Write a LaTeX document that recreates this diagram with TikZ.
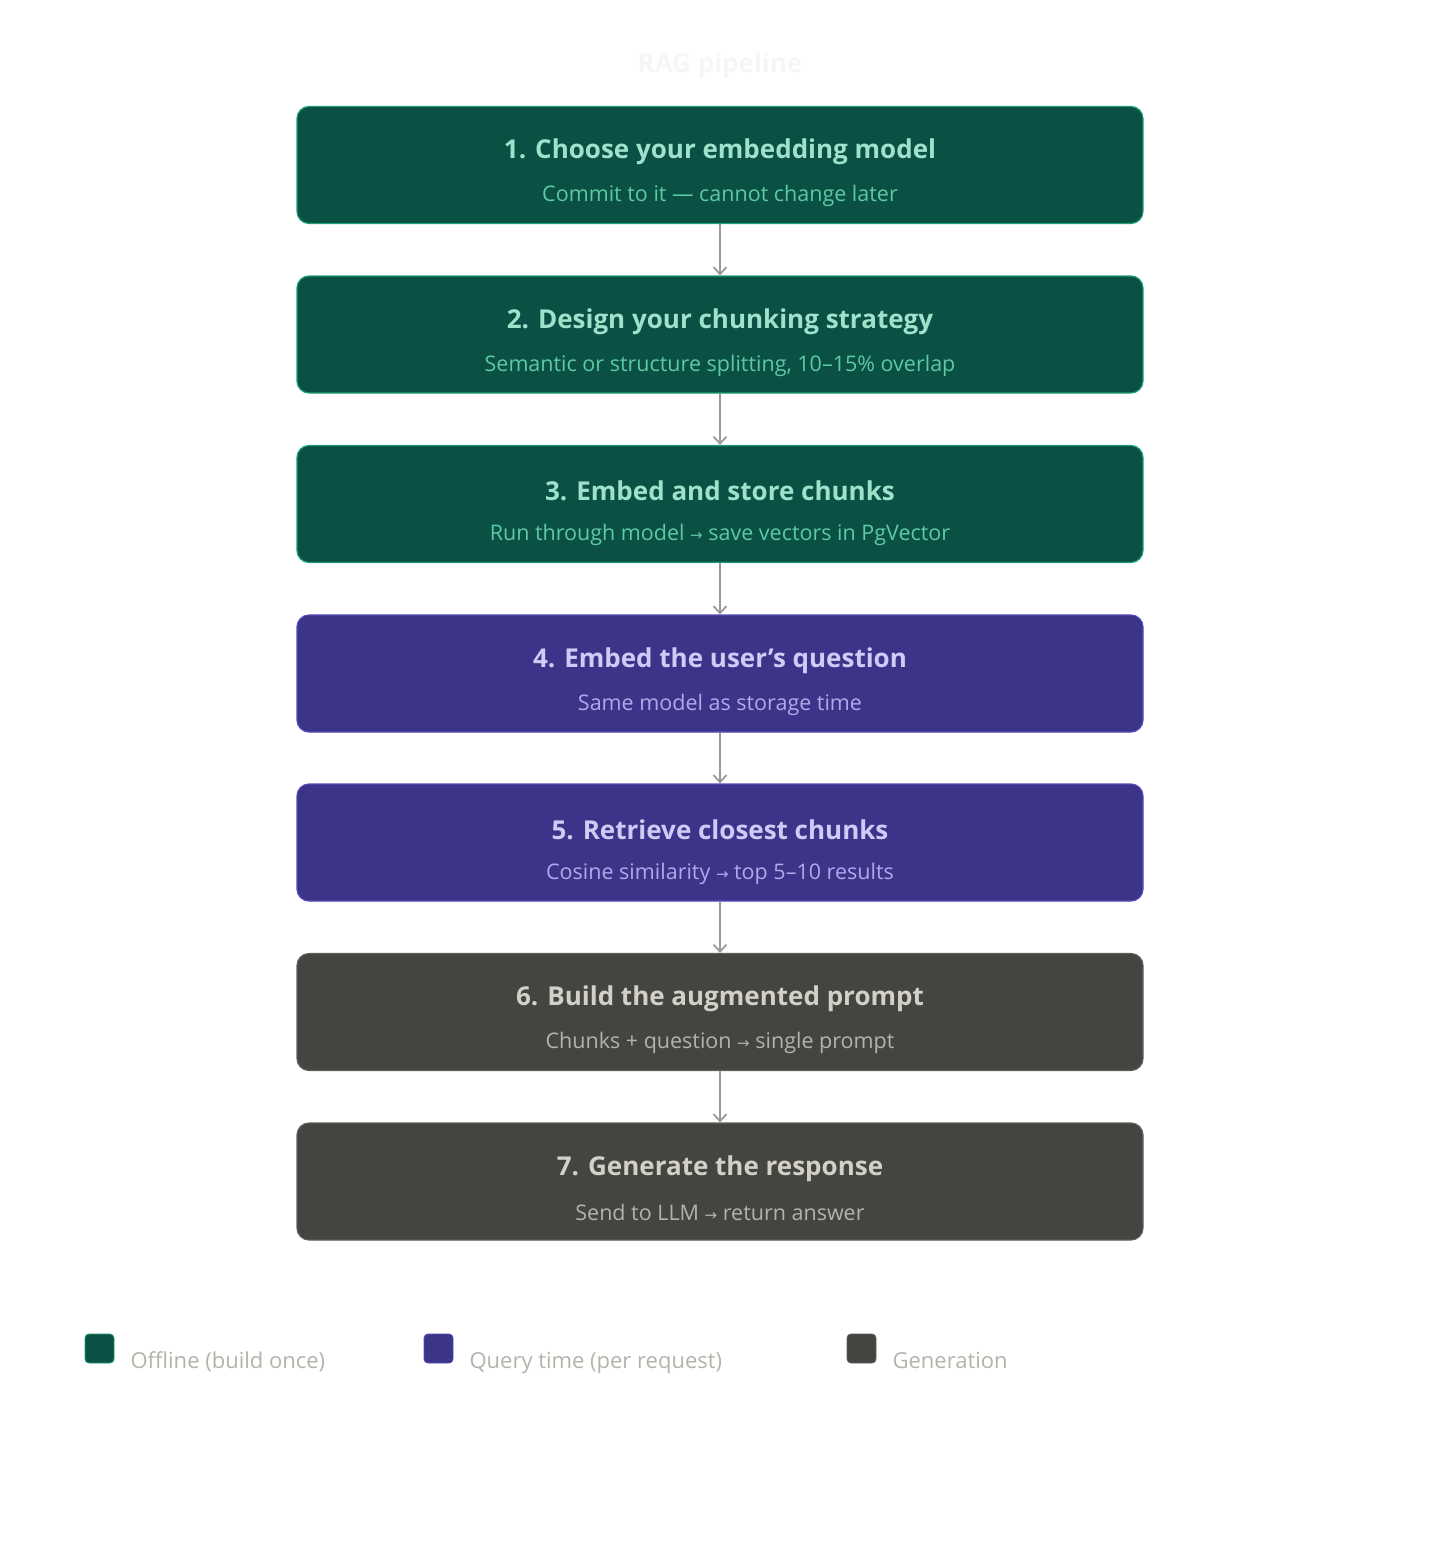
\documentclass[tikz,border=0pt]{standalone}
\usepackage{fontspec}
\setmainfont{Open Sans}
\newfontfamily\symf{DejaVu Sans}
\newcommand{\ra}{{\symf\fontsize{15}{18}\selectfont →}}
\usetikzlibrary{arrows.meta}
\definecolor{gF}{HTML}{0A5044}\definecolor{gB}{HTML}{1D9E75}\definecolor{gT}{HTML}{9FE1CB}\definecolor{gS}{HTML}{5DCAA5}
\definecolor{pF}{HTML}{3C3489}\definecolor{pB}{HTML}{534AB7}\definecolor{pT}{HTML}{CECBF6}\definecolor{pS}{HTML}{AFA9EC}
\definecolor{kF}{HTML}{444441}\definecolor{kB}{HTML}{5F5E5A}\definecolor{kT}{HTML}{D3D1C7}\definecolor{kS}{HTML}{B4B2A9}
\definecolor{arr}{HTML}{9A9A94}\definecolor{ttl}{HTML}{F6F6F4}
\begin{document}
\begin{tikzpicture}[x=1pt,y=-1pt,
 box/.style={draw=#1B,fill=#1F,rounded corners=12pt,line width=1.2pt,minimum width=846pt,minimum height=117pt,inner sep=0pt},
 tt/.style={font=\fontsize{26}{30}\selectfont\bfseries,text=#1T},
 st/.style={font=\fontsize{21.5}{26}\selectfont,text=#1S},
 ar/.style={draw=arr,line width=1.8pt,-{Straight Barb[length=7pt,width=13pt]}},
 lsq/.style={fill=#1F,draw=#1B,line width=0.8pt,rounded corners=4pt,minimum size=29pt,inner sep=0pt},
 lt/.style={font=\fontsize{22}{26}\selectfont,text=kS,anchor=base west}]
\useasboundingbox (0,0) rectangle (1440,1568);
\node[font=\fontsize{26}{30}\selectfont\bfseries,text=ttl] (title) at (720,66) {RAG pipeline};
\foreach \i/\y/\c/\t/\s in {
 1/165/g/{1. Choose your embedding model}/{Commit to it — cannot change later},
 2/334.5/g/{2. Design your chunking strategy}/{Semantic or structure splitting, 10–15\% overlap},
 3/504/g/{3. Embed and store chunks}/{Run through model \ra\ save vectors in PgVector},
 4/673.5/p/{4. Embed the user\char"27 s question}/{Same model as storage time},
 5/842.5/p/{5. Retrieve closest chunks}/{Cosine similarity \ra\ top 5–10 results},
 6/1012/k/{6. Build the augmented prompt}/{Chunks + question \ra\ single prompt},
 7/1181.5/k/{7. Generate the response}/{Send to LLM \ra\ return answer}}{
 \node[box=\c] (b\i) at (720,\y) {};
 \node[tt=\c] (t\i) at (720,\y-13) {\t};
 \node[st=\c] (s\i) at (720,\y+31) {\s};
}
\foreach \a/\b in {1/2,2/3,3/4,4/5,5/6,6/7} \draw[ar] (b\a) -- (b\b);
\node[lsq=g] (l1) at (99.5,1348.5) {};
\node[lt] (lt1) at (127,1368) {Offline (build once)};
\node[lsq=p] (l2) at (438.5,1348.5) {};
\node[lt] (lt2) at (466,1368) {Query time (per request)};
\node[lsq=k] (l3) at (861.5,1348.5) {};
\node[lt] (lt3) at (889,1368) {Generation};
\end{tikzpicture}
\end{document}
